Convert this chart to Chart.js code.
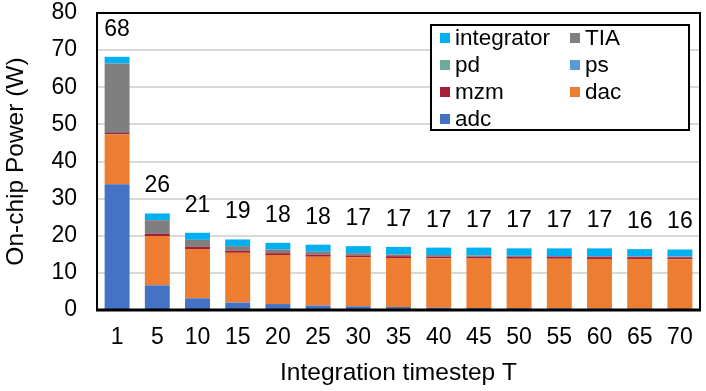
<!DOCTYPE html>
<html>
<head>
<meta charset="utf-8">
<script src="https://cdn.jsdelivr.net/npm/chart.js@4.4.0/dist/chart.umd.min.js"></script>
<style>
  html, body { margin: 0; padding: 0; background: #fff; }
</style>
</head>
<body>
<canvas id="myChart" width="706" height="391"></canvas>
<script>
const timesteps = ['1', '5', '10', '15', '20', '25', '30', '35', '40', '45', '50', '55', '60', '65', '70'];
const adc        = [33.9, 6.65, 3.15, 2.0, 1.6, 1.2, 1.0, 0.8, 0.6, 0.55, 0.5, 0.45, 0.4, 0.35, 0.3];
const dac        = [13.4, 13.25, 13.25, 13.4, 13.2, 13.15, 13.2, 13.2, 13.3, 13.3, 13.3, 13.35, 13.35, 13.4, 13.4];
const mzm        = [0.4, 0.6, 0.6, 0.6, 0.5, 0.55, 0.5, 0.5, 0.5, 0.45, 0.5, 0.5, 0.5, 0.5, 0.5];
const ps         = [0, 0, 0, 0, 0, 0, 0, 0, 0, 0, 0, 0, 0, 0, 0];
const pd         = [0, 0, 0, 0, 0, 0, 0, 0, 0, 0, 0, 0, 0, 0, 0];
const tia        = [18.7, 3.7, 1.9, 1.2, 1.0, 0.8, 0.6, 0.5, 0.4, 0.4, 0.3, 0.25, 0.25, 0.2, 0.2];
const integrator = [1.8, 1.8, 1.9, 1.8, 1.8, 1.9, 1.9, 2.0, 2.0, 2.1, 2.0, 2.05, 2.1, 1.95, 1.9];
const yTicks = [0, 10, 20, 30, 40, 50, 60, 70, 80];

const FONT = '"Liberation Sans", Arial, sans-serif';

// total on top of each stack
const totalLabels = {
  id: 'totalLabels',
  afterDatasetsDraw(chart) {
    const ctx = chart.ctx;
    const yScale = chart.scales.y;
    const meta = chart.getDatasetMeta(0);
    ctx.save();
    ctx.font = '23px ' + FONT;
    ctx.fillStyle = '#000';
    ctx.textAlign = 'center';
    ctx.textBaseline = 'alphabetic';
    chart.data.labels.forEach((lab, i) => {
      let total = 0;
      chart.data.datasets.forEach(ds => { total += ds.data[i]; });
      const x = meta.data[i].x;
      const y = yScale.getPixelForValue(total) - 21;
      ctx.fillText(String(Math.round(total)), x, y);
    });
    ctx.restore();
  }
};

// plot area frame + boxed two-column legend
const frameAndLegend = {
  id: 'frameAndLegend',
  afterDraw(chart) {
    const ctx = chart.ctx;
    const a = chart.chartArea;
    ctx.save();
    ctx.strokeStyle = '#000';
    ctx.lineWidth = 2;
    ctx.strokeRect(a.left, a.top, a.right - a.left, a.bottom - a.top);
    ctx.lineWidth = 3;
    ctx.beginPath();
    ctx.moveTo(a.left - 1, a.bottom);
    ctx.lineTo(a.right + 1, a.bottom);
    ctx.stroke();

    const bx = 431, by = 25, bw = 258, bh = 105;
    ctx.fillStyle = '#fff';
    ctx.fillRect(bx, by, bw, bh);
    ctx.lineWidth = 2;
    ctx.strokeRect(bx, by, bw, bh);
    ctx.font = '22.5px ' + FONT;
    ctx.textBaseline = 'middle';
    ctx.textAlign = 'left';
    const items = chart.data.datasets.slice().reverse();
    items.forEach((ds, i) => {
      const col = i % 2, row = Math.floor(i / 2);
      const x = bx + 9 + col * 130;
      const y = by + 13 + row * 27;
      ctx.fillStyle = ds.backgroundColor;
      ctx.fillRect(x, y - 5, 10, 10);
      ctx.fillStyle = '#000';
      ctx.fillText(ds.label, x + 15, y + 1);
    });
    ctx.restore();
  }
};

const ctx = document.getElementById('myChart').getContext('2d');
new Chart(ctx, {
  type: 'bar',
  data: {
    labels: timesteps,
    datasets: [
      { label: 'adc', data: adc, backgroundColor: '#4472C4' },
      { label: 'dac', data: dac, backgroundColor: '#ED7D31' },
      { label: 'mzm', data: mzm, backgroundColor: '#A21F36' },
      { label: 'ps', data: ps, backgroundColor: '#5B9BD5' },
      { label: 'pd', data: pd, backgroundColor: '#6AAB9C' },
      { label: 'TIA', data: tia, backgroundColor: '#7F7F7F' },
      { label: 'integrator', data: integrator, backgroundColor: '#00B0F0' }
    ]
  },
  options: {
    responsive: false,
    animation: false,
    layout: { autoPadding: false, padding: { top: 13, right: 6, left: 0, bottom: 0 } },
    datasets: {
      bar: { barPercentage: 0.62, categoryPercentage: 1.0, borderWidth: 0 }
    },
    plugins: {
      legend: { display: false },
      title: { display: false },
      tooltip: { enabled: false }
    },
    scales: {
      x: {
        stacked: true,
        grid: { display: false, drawTicks: false },
        border: { display: false },
        ticks: { color: '#000', font: { family: FONT, size: 23 }, padding: 14, maxRotation: 0 },
        title: {
          display: true,
          text: 'Integration timestep T',
          color: '#000',
          font: { family: FONT, size: 24.5 },
          padding: { top: 0, bottom: 3 }
        },
        afterFit(scale) {
          scale.height = 81;
          scale.paddingLeft = 0;
          scale.paddingRight = 0;
        }
      },
      y: {
        stacked: true,
        min: 0,
        max: 80,
        afterBuildTicks(scale) { scale.ticks = yTicks.map(v => ({ value: v })); },
        grid: { color: '#d9d9d9', lineWidth: 2, drawTicks: false },
        border: { display: false },
        ticks: { color: '#000', font: { family: FONT, size: 23 }, padding: 20 },
        title: {
          display: true,
          text: 'On-chip Power (W)',
          color: '#000',
          font: { family: FONT, size: 24.5 },
          padding: { top: 2, bottom: 0 }
        },
        afterFit(scale) {
          scale.width = 97;
          scale.paddingTop = 0;
          scale.paddingBottom = 0;
        }
      }
    }
  },
  plugins: [totalLabels, frameAndLegend]
});
</script>
</body>
</html>
